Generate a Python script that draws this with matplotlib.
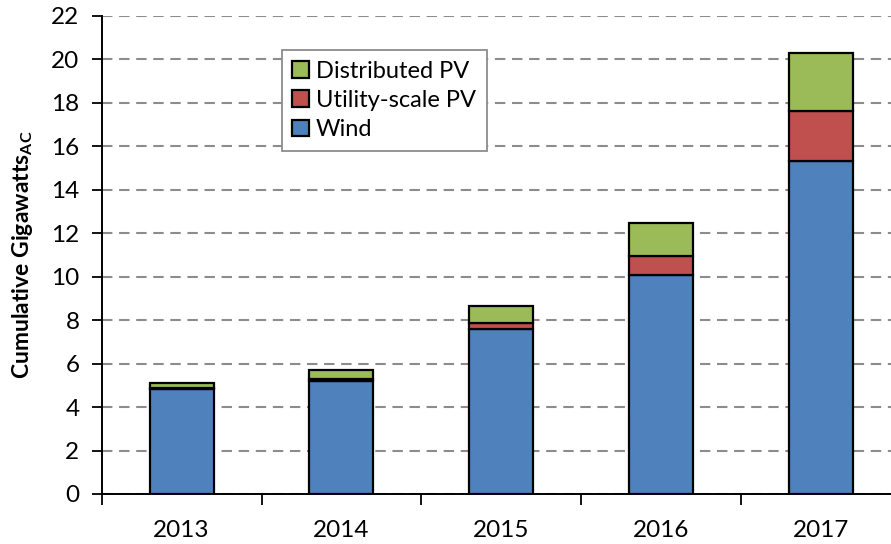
import matplotlib
matplotlib.use("Agg")
import matplotlib.pyplot as plt
import numpy as np

plt.rcParams['font.family'] = ['Lato', 'DejaVu Sans']
plt.rcParams['mathtext.fontset'] = 'custom'
plt.rcParams['mathtext.rm'] = 'Lato'
plt.rcParams['mathtext.bf'] = 'Lato:bold'

years = ["2013", "2014", "2015", "2016", "2017"]
wind = [4.85, 5.20, 7.60, 10.08, 15.32]
utility_pv = [0.03, 0.10, 0.26, 0.87, 2.31]
distributed_pv = [0.25, 0.42, 0.80, 1.54, 2.65]

c_wind = "#4F81BD"
c_util = "#C0504D"
c_dist = "#9BBB59"

fig = plt.figure(figsize=(8.91, 5.44), dpi=100)
W, H = 891, 544
left_px, right_px, top_px, bot_px = 101.7, 900.7, 16, 494
ax = fig.add_axes([left_px / W, 1 - bot_px / H, (right_px - left_px) / W, (bot_px - top_px) / H])

x = np.arange(len(years))
bw = 0.4
ew = 1.6
b1 = ax.bar(x, wind, bw, color=c_wind, edgecolor='black', linewidth=ew, zorder=3, label='Wind')
b2 = ax.bar(x, utility_pv, bw, bottom=wind, color=c_util, edgecolor='black', linewidth=ew, zorder=3,
            label='Utility-scale PV')
bottom2 = np.array(wind) + np.array(utility_pv)
b3 = ax.bar(x, distributed_pv, bw, bottom=bottom2, color=c_dist, edgecolor='black', linewidth=ew, zorder=3,
            label='Distributed PV')

ax.set_xlim(-0.5, len(years) - 0.5)
ax.set_ylim(0, 22)
ax.set_yticks(np.arange(0, 23, 2))
ax.yaxis.grid(True, color='#8c8c8c', linewidth=1.5, linestyle=(0, (5, 3.2)), zorder=0)
ax.set_axisbelow(True)

ax.set_xticks(x)
ax.set_xticklabels(years)
ax.set_xticks(np.arange(-0.5, len(years) + 0.5, 1), minor=True)
ax.tick_params(axis='x', which='major', length=0, pad=19, labelsize=17.5)
ax.tick_params(axis='x', which='minor', length=8, width=1.3, direction='out')
ax.tick_params(axis='y', which='major', length=7, width=1.3, direction='out', labelsize=17.5, pad=9)

for s in ['top', 'right']:
    ax.spines[s].set_visible(False)
for s in ['left', 'bottom']:
    ax.spines[s].set_linewidth(1.4)
    ax.spines[s].set_color('black')

ax.set_ylabel(r'Cumulative Gigawatts$_{\mathbf{AC}}$', fontsize=16.5, fontweight='bold')
ax.yaxis.set_label_coords(-0.083, 0.5)

leg = ax.legend(handles=[b3, b2, b1], labels=['Distributed PV', 'Utility-scale PV', 'Wind'],
                loc='upper left', bbox_to_anchor=(0.2253, 0.929), borderaxespad=0,
                fontsize=17, frameon=True, fancybox=False, edgecolor='#8c8c8c',
                handlelength=0.7, handleheight=0.7, handletextpad=0.3, labelspacing=0.35,
                borderpad=0.45)
leg.get_frame().set_linewidth(1.3)
leg.get_frame().set_facecolor('white')
leg.get_frame().set_alpha(1)
leg.set_zorder(5)

fig.savefig("out.png", dpi=100)
